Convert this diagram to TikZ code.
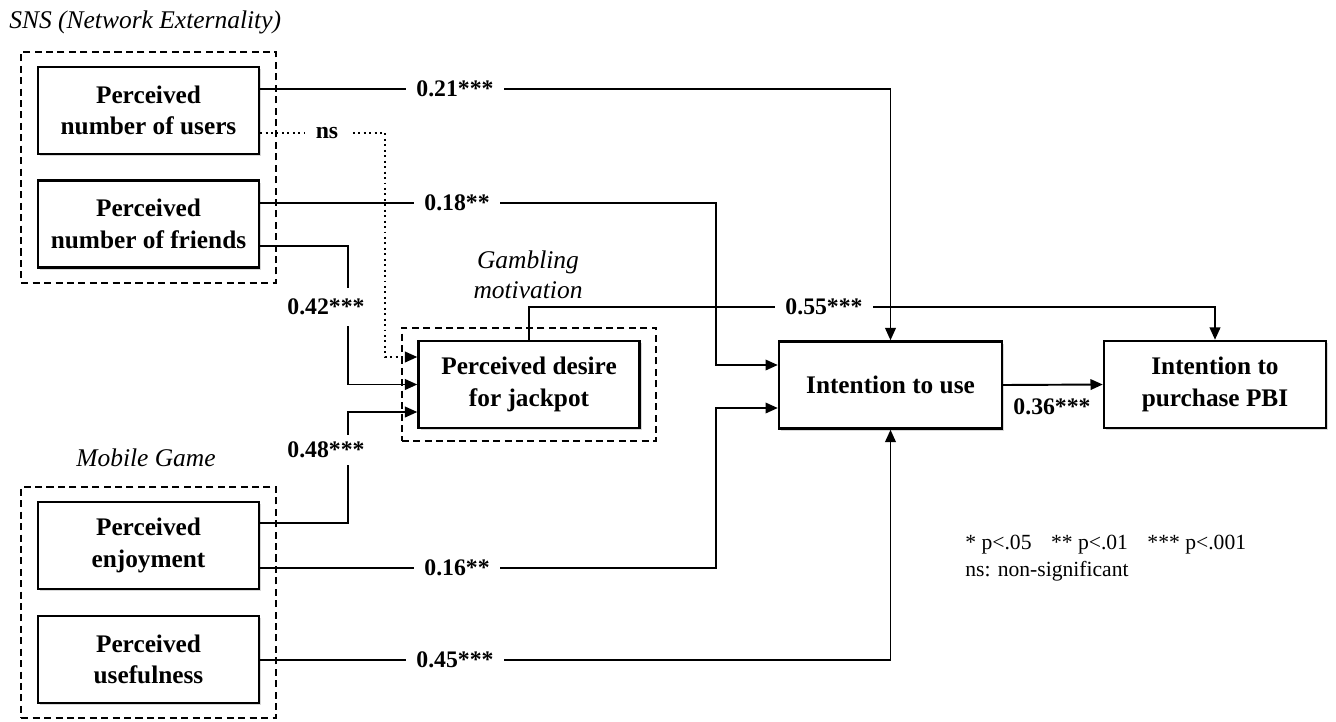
\documentclass[tikz,border=0pt]{standalone}
\usepackage{fontspec}
\setmainfont{Liberation Serif}
\usetikzlibrary{arrows.meta,fit,calc,shadows}
\newcommand{\boxfont}{\fontsize{14.4}{18}\selectfont\bfseries}
\newcommand{\coeffont}{\fontsize{13.5}{16}\selectfont\bfseries}
\newcommand{\titlefont}{\fontsize{14.5}{17}\selectfont\itshape}
\newcommand{\notefont}{\fontsize{12.3}{15.3}\selectfont}

\begin{document}
\begin{tikzpicture}[x=0.02cm, y=-0.02cm,
  construct/.style={draw, line width=1.4pt, fill=white, align=center,
    minimum width=4.42cm, minimum height=1.74cm, font=\boxfont,
    drop shadow={shadow xshift=1.2pt, shadow yshift=-1.2pt, fill=black!30}},
  groupbox/.style={draw, line width=1.1pt, dash pattern=on 4pt off 2.5pt,
    inner xsep=0.31cm, inner ysep=0.28cm},
  grouptitle/.style={font=\titlefont, inner sep=0pt, align=center},
  conn/.style={line width=1.1pt, -{Triangle[length=7pt,width=6pt]}},
  coef/.style={font=\coeffont, fill=white, inner xsep=6pt, inner ysep=4pt}]
\useasboundingbox (0,0) rectangle (1336,721);

% Constructs
\node[construct] (users) at (148.5,110.5) {Perceived\\number of users};
\node[construct] (friends) at (148.5,224) {Perceived\\number of friends};
\node[construct] (enjoy) at (148.5,545.5) {Perceived\\enjoyment};
\node[construct] (useful) at (148.5,659.5) {Perceived\\usefulness};
\node[construct] (desire) at (529,384.5) {Perceived desire\\for jackpot};
\node[construct, minimum width=4.46cm] (intent) at (890.5,385) {Intention to use};
\node[construct, minimum width=4.44cm] (purchase) at (1215,384.5) {Intention to\\purchase PBI};

% Groups
\node[groupbox, fit=(users)(friends)] (sns) {};
\node[groupbox, fit=(enjoy)(useful)] (mobile) {};
\node[groupbox, fit=(desire), inner ysep=0.24cm] (gambling) {};
\node[grouptitle, anchor=west] (snstitle) at (9,22) {SNS (Network Externality)};
\node[grouptitle] (mobiletitle) at (146,458) {Mobile Game};
\node[grouptitle] (gambtitle) at (528,275) {Gambling\\motivation};

% Label spots and bends
\coordinate (p21) at (455,89);
\coordinate (pns) at (327,133);
\coordinate (p18) at (457,203);
\coordinate (p42) at (326,307);
\coordinate (p48) at (326,450);
\coordinate (p16) at (457,568);
\coordinate (p45) at (455,660);
\coordinate (p55) at (824,307);
\coordinate (nsbend) at (385,357);
\coordinate (bend18) at (716,365);
\coordinate (bend42) at (348,246);
\coordinate (bend48) at (348,523);
\coordinate (in48) at (348,412);
\coordinate (bend16) at (716,408);

% SNS paths
\draw[conn] (users.east |- p21) -| (intent.north);
\draw[conn, dotted] (users.east |- pns) -| (nsbend) -- (desire.west |- nsbend);
\draw[conn] (friends.east |- p18) -| (bend18) -- (intent.west |- bend18);
\draw[conn] (friends.east |- bend42) -- (bend42) |- (desire.west);

% Mobile game paths
\draw[conn] (enjoy.east |- bend48) -- (bend48) -- (in48) -- (desire.west |- in48);
\draw[conn] (enjoy.east |- p16) -| (bend16) -- (intent.west |- bend16);
\draw[conn] (useful.east |- p45) -| (intent.south);

% Outcomes
\draw[conn] (desire.north) |- (p55) -| (purchase.north);
\draw[conn] (intent.east) -- (purchase.west);

% Coefficients
\node[coef] (l21) at (p21) {0.21***};
\node[coef] (lns) at (pns) {ns};
\node[coef] (l18) at (p18) {0.18**};
\node[coef, inner ysep=6pt] (l42) at (p42) {0.42***};
\node[coef] (l48) at (p48) {0.48***};
\node[coef] (l16) at (p16) {0.16**};
\node[coef] (l45) at (p45) {0.45***};
\node[coef] (l55) at (p55) {0.55***};
\node[font=\coeffont] (l36) at (1052,407) {0.36***};

% Legend
\node[font=\notefont, anchor=west, align=left, inner sep=0pt] (legend) at (965,558.5)
  {* p<.05\hspace{8pt} ** p<.01\hspace{8pt} *** p<.001\\ns: non-significant};
\end{tikzpicture}
\end{document}
